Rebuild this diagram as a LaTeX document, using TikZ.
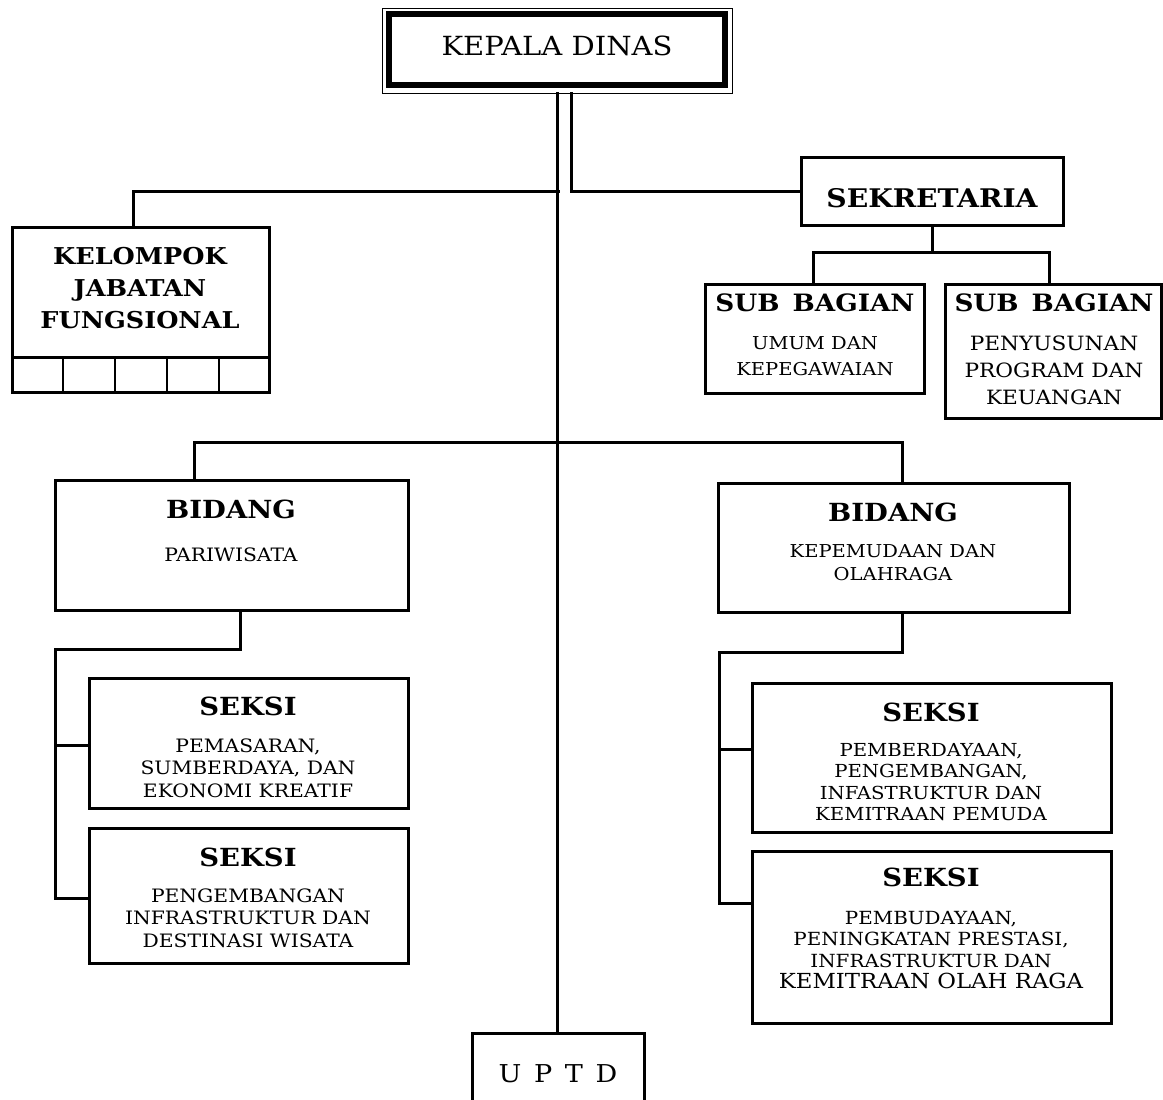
\documentclass[tikz,border=0pt]{standalone}
\usepackage{fontspec}
\setmainfont{DejaVu Serif}[FakeStretch=1.1]
\usetikzlibrary{fit}
\tikzset{
  x=0.02cm, y=-0.02cm,
  conn/.style={line width=3*0.02cm, line cap=rect},
  box/.style={draw, line width=3*0.02cm, inner sep=0pt, outer sep=0pt, rectangle},
  ttl/.style={font=\bfseries\fontsize{14.2}{16}\selectfont, inner sep=0pt},
  subttl/.style={font=\bfseries\fontsize{13.6}{16}\selectfont, inner sep=0pt},
  sub/.style={align=center, inner sep=0pt},
}
\begin{document}
\begin{tikzpicture}
\useasboundingbox (0,0) rectangle (1163,1099);
\clip (0,0) rectangle (1163,1099);
% ---------- boxes
\node[draw, line width=1.5*0.02cm, inner sep=0pt, outer sep=0pt, fit={(382.5,8.5) (732.5,93.5)}] (kd) {};
\draw[line width=6*0.02cm] (389,14) rectangle (725,85);
\node[box, fit={(801,157) (1063,225)}] (sek) {};
\node[box, fit={(12,227) (269,392)}] (kj) {};
\node[box, fit={(705,284) (924,393)}] (sb1) {};
\node[box, fit={(945,284) (1161,418)}] (sb2) {};
\node[box, fit={(55,480) (408,610)}] (bl) {};
\node[box, fit={(718,483) (1069,612)}] (br) {};
\node[box, fit={(89,678) (408,808)}] (sl1) {};
\node[box, fit={(89,828) (408,963)}] (sl2) {};
\node[box, fit={(752,683) (1111,832)}] (sr1) {};
\node[box, fit={(752,851) (1111,1023)}] (sr2) {};
\node[box, fit={(472,1033) (644,1120)}] (uptd) {};
% cells of KJF
\draw[line width=3*0.02cm] (12,357) -- (269,357);
\foreach \cx in {63,115,167,219} \draw[line width=2.5*0.02cm] (\cx,357) -- (\cx,392);
% ---------- texts
\node[inner sep=0pt, font=\fontsize{15}{18}\selectfont] (kdT) at (557,46) {KEPALA DINAS};
\node[inner sep=0pt, font=\bfseries\fontsize{14.6}{16}\selectfont] (sekT) at (932,198) {SEKRETARIA};
\node[sub, font=\bfseries\fontsize{13.2}{18.2}\selectfont] (kjT) at (140,288) {KELOMPOK\\JABATAN\\FUNGSIONAL};
\node[subttl] (sb1T) at (815,303) {SUB\ \,BAGIAN};
\node[sub, font=\fontsize{10.1}{14.8}\selectfont] (sb1S) at (815,356) {UMUM DAN\\KEPEGAWAIAN};
\node[subttl] (sb2T) at (1054,303) {SUB\ \,BAGIAN};
\node[sub, font=\fontsize{11.2}{15.4}\selectfont] (sb2S) at (1054,370) {PENYUSUNAN\\PROGRAM DAN\\KEUANGAN};
\node[ttl] (blT) at (231,509) {BIDANG};
\node[sub, font=\fontsize{10.5}{12}\selectfont] (blS) at (231,555) {PARIWISATA};
\node[ttl] (brT) at (893,512) {BIDANG};
\node[sub, font=\fontsize{10.1}{13}\selectfont] (brS) at (893,563) {KEPEMUDAAN DAN\\OLAHRAGA};
\node[ttl] (sl1T) at (248,706) {SEKSI};
\node[sub, font=\fontsize{10.5}{12.8}\selectfont] (sl1S) at (248,768) {PEMASARAN,\\SUMBERDAYA, DAN\\EKONOMI KREATIF};
\node[ttl] (sl2T) at (248,857) {SEKSI};
\node[sub, font=\fontsize{10.5}{12.8}\selectfont] (sl2S) at (248,918) {PENGEMBANGAN\\INFRASTRUKTUR DAN\\DESTINASI WISATA};
\node[ttl] (sr1T) at (931,712) {SEKSI};
\node[sub, font=\fontsize{10.2}{12.1}\selectfont] (sr1S) at (931,782) {PEMBERDAYAAN,\\PENGEMBANGAN,\\INFASTRUKTUR DAN\\KEMITRAAN PEMUDA};
\node[ttl] (sr2T) at (931,877) {SEKSI};
\node[sub, font=\fontsize{10.3}{12.1}\selectfont] (sr2S) at (931,950) {PEMBUDAYAAN,\\PENINGKATAN PRESTASI,\\INFRASTRUKTUR DAN\\{\fontsize{11.8}{13}\selectfont KEMITRAAN OLAH RAGA}};
\node[inner sep=0pt, font=\fontsize{14}{18}\selectfont] (uptdT) at (558,1074) {U\ \,P\ \,T\ \,D};
% ---------- connectors
\coordinate (j1) at (558,191);
\coordinate (kjc) at (133,191);
\coordinate (bj) at (558,442);
\coordinate (blc) at (194,442);
\coordinate (brc) at (902,442);
\coordinate (sj) at (932,252);
\coordinate (s1c) at (813,252);
\coordinate (s2c) at (1049,252);
\coordinate (lA) at (240,649);
\coordinate (lB) at (55,649);
\coordinate (lb1) at (55,745);
\coordinate (lb2) at (55,898);
\coordinate (rA) at (902,652);
\coordinate (rB) at (719,652);
\coordinate (rb1) at (719,749);
\coordinate (rb2) at (719,903);
\draw[conn] (kd.south) -- (kd.south |- uptd.north);
\draw[conn] (j1) -- (kjc) -- (kjc |- kj.north);
\draw[conn] ([xshift=0.28cm]kd.south) |- (sek.west);
\draw[conn] (sek.south) -- (sj);
\draw[conn] (s1c |- sb1.north) -- (s1c) -- (s2c) -- (s2c |- sb2.north);
\draw[conn] (blc |- bl.north) -- (blc) -- (brc) -- (brc |- br.north);
\draw[conn] (lA |- bl.south) -- (lA) -- (lB) -- (lb2) -- (lb2 -| sl2.west);
\draw[conn] (lb1) -- (lb1 -| sl1.west);
\draw[conn] (rA |- br.south) -- (rA) -- (rB) -- (rb2) -- (rb2 -| sr2.west);
\draw[conn] (rb1) -- (rb1 -| sr1.west);
\end{tikzpicture}
\end{document}
